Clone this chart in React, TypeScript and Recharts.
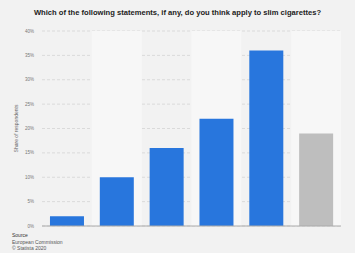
import { BarChart, Bar, XAxis, YAxis, CartesianGrid, Cell, ReferenceArea, ReferenceLine } from "recharts";

const statements = [
  "They are less harmful than regular cigarettes",
  "They are more attractive",
  "They are easier to smoke",
  "They look more elegant",
  "None of these",
  "Don't know",
];
const shares = [2, 10, 16, 22, 36, 19];
const yTicks = [0, 5, 10, 15, 20, 25, 30, 35, 40];

const data = statements.map((name, i) => ({ name, value: shares[i] }));

const App = () => {
  return (
    <div
      style={{
        position: "fixed",
        left: 0,
        top: 0,
        width: 355,
        height: 253,
        background: "#f2f2f2",
        fontFamily: "Arial, 'Liberation Sans', sans-serif",
      }}
    >
      <div
        style={{
          position: "absolute",
          top: 8,
          left: 0,
          width: 355,
          textAlign: "center",
          fontSize: 7.6,
          fontWeight: "bold",
          color: "#222",
        }}
      >
        Which of the following statements, if any, do you think apply to slim cigarettes?
      </div>
      <BarChart
        width={355}
        height={253}
        data={data}
        margin={{ top: 31, right: 14, left: 10, bottom: 27 }}
        barCategoryGap="16%"
      >
        {statements.map((s, i) =>
          i % 2 === 1 ? (
            <ReferenceArea key={s} x1={s} x2={s} fill="#f7f7f7" fillOpacity={1} stroke="none" ifOverflow="visible" />
          ) : null
        )}
        <CartesianGrid vertical={false} stroke="#dadada" strokeDasharray="3 2" />
        <XAxis dataKey="name" hide />
        <YAxis
          width={32}
          domain={[0, 40]}
          ticks={yTicks}
          tickFormatter={(v) => `${v}%`}
          axisLine={false}
          tickLine={false}
          tick={{ fontSize: 4.5, fill: "#777" }}
          label={{
            value: "Share of respondents",
            angle: -90,
            position: "insideLeft",
            offset: 6,
            style: { fontSize: 5, fill: "#666", textAnchor: "middle" },
          }}
        />
        <Bar dataKey="value" isAnimationActive={false}>
          {data.map((d, i) => (
            <Cell key={d.name} fill={i === data.length - 1 ? "#bebebe" : "#2876dd"} />
          ))}
        </Bar>
        <ReferenceLine y={0} stroke="#aaaaaa" strokeWidth={1} />
      </BarChart>
      <div
        style={{
          position: "absolute",
          left: 12,
          top: 232,
          fontSize: 5,
          lineHeight: "6.5px",
          color: "#555",
        }}
      >
        <div style={{ color: "#333" }}>Source</div>
        <div>European Commission</div>
        <div>© Statista 2020</div>
      </div>
    </div>
  );
};

export default App;
